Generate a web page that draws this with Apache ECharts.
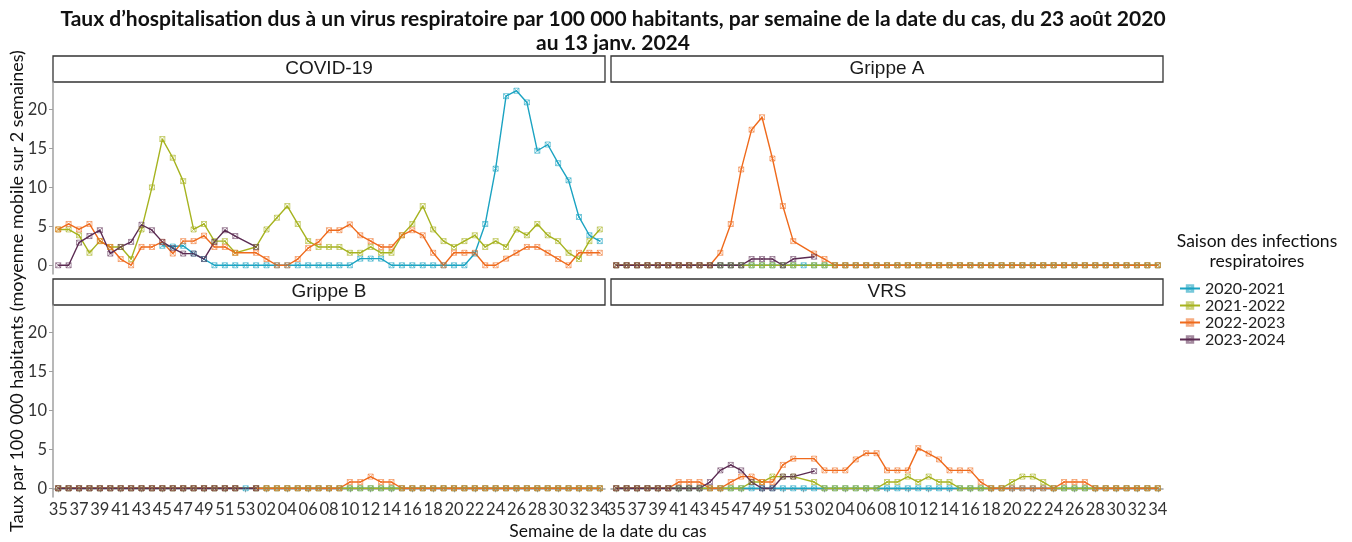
<!DOCTYPE html>
<html>
<head>
<meta charset="utf-8">
<script src="https://cdn.jsdelivr.net/npm/echarts@6/dist/echarts.min.js"></script>
<style>
  html, body { margin: 0; background: #fff; }
  #chart { width: 1352px; height: 542px; }
</style>
</head>
<body>
<div id="chart"></div>
<script>
const N = null;
const weeks = ['35','36','37','38','39','40','41','42','43','44','45','46','47','48','49','50','51','52','53',
  '01','02','03','04','05','06','07','08','09','10','11','12','13','14','15','16','17','18','19','20',
  '21','22','23','24','25','26','27','28','29','30','31','32','33','34'];
const facets = ['COVID-19', 'Grippe A', 'Grippe B', 'VRS'];
const seasons = ['2020-2021', '2021-2022', '2022-2023', '2023-2024'];
const yTicks = [0, 5, 10, 15, 20];

// COVID-19
const covid_2020_2021 = [N,N,N,N,N,N,N,N,N,N, 2.5,2.4,2.5,1.5,0.8, 0,0,0,0,0,0,0,0,0,0,0,0,0,0,
  0.85,0.85,0.85, 0,0,0,0,0,0,0,0, 1.5,5.3,12.4,21.7,22.4,20.9,14.7,15.5,13.1,10.9,6.2,3.85,3.1];
const covid_2021_2022 = [4.6,4.6,3.85,1.6,3.1,2.35,2.35,0.8,4.6,10.0,16.2,13.8,10.8,4.6,5.3,3.1,3.1,1.6,N,
  2.35,4.6,6.1,7.6,5.3,3.1,2.35,2.35,2.35,1.6,1.6,2.35,1.6,1.6,3.85,5.3,7.6,4.6,3.1,2.35,3.1,3.85,
  2.35,3.1,2.35,4.6,3.85,5.3,3.85,3.1,1.6,0.8,3.1,4.6];
const covid_2022_2023 = [4.6,5.3,4.6,5.3,3.1,2.35,0.8,0,2.35,2.35,3.0,1.5,3.1,3.1,3.8,2.35,2.35,1.6,N,
  1.6,0.8,0,0,0.8,2.2,3.0,4.5,4.5,5.25,3.85,3.1,2.35,2.35,3.85,4.5,3.85,1.6,0,1.6,1.6,1.6,
  0,0,0.85,1.6,2.35,2.35,1.6,0.8,0,1.6,1.6,1.6];
const covid_2023_2024 = [0,0,2.9,3.75,4.5,1.5,2.35,3.0,5.2,4.5,3.0,2.2,1.5,1.5,0.8,3.0,4.5,3.75,N,2.35,
  N,N,N,N,N,N,N,N,N,N,N,N,N,N,N,N,N,N,N,N,N,N,N,N,N,N,N,N,N,N,N,N,N];

// Grippe A
const grippeA_2020_2021 = [0,0,0,0,0,0,0,0,0,0,0,0,0,0,0,0,0,0,0,
  0,0,0,0,0,0,0,0,0,0,0,0,0,0,0,0,0,0,0,0,0,0,0,0,0,0,0,0,0,0,0,0,0,0];
const grippeA_2021_2022 = [0,0,0,0,0,0,0,0,0,0,0,0,0,0,0,0,0,0,N,
  0,0,0,0,0,0,0,0,0,0,0,0,0,0,0,0,0,0,0,0,0,0,0,0,0,0,0,0,0,0,0,0,0,0];
const grippeA_2022_2023 = [0,0,0,0,0,0,0,0,0,0,1.6,5.3,12.3,17.4,19.0,13.7,7.6,3.1,N,
  1.5,0.8,0,0,0,0,0,0,0,0,0,0,0,0,0,0,0,0,0,0,0,0,0,0,0,0,0,0,0,0,0,0,0,0];
const grippeA_2023_2024 = [0,0,0,0,0,0,0,0,0,0,0,0,0,0.8,0.8,0.8,0,0.8,N,1.1,
  N,N,N,N,N,N,N,N,N,N,N,N,N,N,N,N,N,N,N,N,N,N,N,N,N,N,N,N,N,N,N,N,N];

// Grippe B
const grippeB_2020_2021 = [0,0,0,0,0,0,0,0,0,0,0,0,0,0,0,0,0,0,0,
  0,0,0,0,0,0,0,0,0,0,0,0,0,0,0,0,0,0,0,0,0,0,0,0,0,0,0,0,0,0,0,0,0,0];
const grippeB_2021_2022 = [0,0,0,0,0,0,0,0,0,0,0,0,0,0,0,0,0,0,N,
  0,0,0,0,0,0,0,0,0,0,0,0,0,0,0,0,0,0,0,0,0,0,0,0,0,0,0,0,0,0,0,0,0,0];
const grippeB_2022_2023 = [0,0,0,0,0,0,0,0,0,0,0,0,0,0,0,0,0,0,N,
  0,0,0,0,0,0,0,0,0,0.8,0.8,1.5,0.8,0.8,0,0,0,0,0,0,0,0,0,0,0,0,0,0,0,0,0,0,0,0];
const grippeB_2023_2024 = [0,0,0,0,0,0,0,0,0,0,0,0,0,0,0,0,0,0,N,0,
  N,N,N,N,N,N,N,N,N,N,N,N,N,N,N,N,N,N,N,N,N,N,N,N,N,N,N,N,N,N,N,N,N];

// VRS
const vrs_2020_2021 = [0,0,0,0,0,0,0,0,0,0,0,0,0,0,0,0,0,0,0,
  0,0,0,0,0,0,0,0,0,0,0,0,0,0,0,0,0,0,0,0,0,0,0,0,0,0,0,0,0,0,0,0,0,0];
const vrs_2021_2022 = [0,0,0,0,0,0,0,0,0,0,0,0,0,0.8,0.8,1.5,1.5,1.5,N,
  0.8,0,0,0,0,0,0,0.8,0.8,1.5,0.8,1.5,0.8,0.8,0,0,0,0,0,0.8,1.5,1.5,0.8,0,0,0,0,0,0,0,0,0,0,0];
const vrs_2022_2023 = [0,0,0,0,0,0,0.8,0.8,0.8,0,0,0.8,1.5,1.5,0.8,0.8,3.0,3.8,N,
  3.8,2.3,2.3,2.3,3.7,4.5,4.5,2.3,2.3,2.3,5.15,4.45,3.7,2.3,2.3,2.3,0.8,
  0,0,0,0,0,0,0,0.8,0.8,0.8,0,0,0,0,0,0,0];
const vrs_2023_2024 = [0,0,0,0,0,0,0,0,0,0.8,2.3,3.0,2.3,0.8,0,0,1.5,1.5,N,2.2,
  N,N,N,N,N,N,N,N,N,N,N,N,N,N,N,N,N,N,N,N,N,N,N,N,N,N,N,N,N,N,N,N,N];

const facetData = [
  [covid_2020_2021, covid_2021_2022, covid_2022_2023, covid_2023_2024],
  [grippeA_2020_2021, grippeA_2021_2022, grippeA_2022_2023, grippeA_2023_2024],
  [grippeB_2020_2021, grippeB_2021_2022, grippeB_2022_2023, grippeB_2023_2024],
  [vrs_2020_2021, vrs_2021_2022, vrs_2022_2023, vrs_2023_2024]
];

const lineColors = ['#1ba3c2', '#a6b31f', '#ef6a1c', '#5b2b52'];
const markColors = ['rgba(27,163,194,0.6)', 'rgba(166,179,31,0.6)', 'rgba(239,106,28,0.55)', 'rgba(91,43,82,0.55)'];
const boxX = 'path://M0,0L10,0L10,10L0,10Z M0,0L10,10 M10,0L0,10';
const font = 'Lato, "Noto Sans", sans-serif';

const grids = [
  { left: 53, top: 82, width: 552, height: 192 },
  { left: 611, top: 82, width: 552, height: 192 },
  { left: 53, top: 305, width: 552, height: 192 },
  { left: 611, top: 305, width: 552, height: 192 }
];

const xAxes = grids.map((g, i) => ({
  type: 'category',
  gridIndex: i,
  data: weeks,
  boundaryGap: true,
  axisLine: { show: i >= 2, lineStyle: { color: '#a0a0a0', width: 1.5 } },
  axisTick: { show: i >= 2, interval: 1, alignWithLabel: true, length: 4, lineStyle: { color: '#a0a0a0' } },
  axisLabel: { show: i >= 2, interval: 1, fontSize: 16.5, color: '#333', margin: 4, fontFamily: font },
  splitLine: { show: false }
}));

const yAxes = grids.map((g, i) => ({
  type: 'value',
  gridIndex: i,
  min: -1.12,
  max: 23.52,
  axisLine: { show: i % 2 === 0, lineStyle: { color: '#a0a0a0', width: 1.5 } },
  axisTick: { show: i % 2 === 0, customValues: yTicks, length: 4, lineStyle: { color: '#a0a0a0' } },
  axisLabel: { show: i % 2 === 0, customValues: yTicks, fontSize: 16.5, color: '#333', margin: 6, fontFamily: font },
  splitLine: { show: false }
}));

const series = [];
facetData.forEach((rows, f) => {
  rows.forEach((vals, s) => {
    series.push({
      type: 'line',
      name: seasons[s],
      xAxisIndex: f,
      yAxisIndex: f,
      data: vals,
      connectNulls: true,
      symbol: boxX,
      symbolSize: 5,
      showAllSymbol: true,
      lineStyle: { color: lineColors[s], width: 1.4 },
      itemStyle: { color: 'rgba(255,255,255,0)', borderColor: markColors[s], borderWidth: 1 },
      emphasis: { disabled: true }
    });
  });
});

const strips = [];
grids.forEach((g, i) => {
  const top = i < 2 ? 56 : 279;
  strips.push({
    type: 'rect',
    shape: { x: g.left, y: top, width: g.width, height: 26 },
    style: { fill: '#fff', stroke: '#333', lineWidth: 1.3 }
  });
  strips.push({
    type: 'text',
    x: g.left + g.width / 2,
    y: top + 13,
    style: { text: facets[i], fill: '#1a1a1a', font: '19px "Liberation Sans", Arial, sans-serif',
      textAlign: 'center', textVerticalAlign: 'middle' }
  });
});

const chart = echarts.init(document.getElementById('chart'));
chart.setOption({
  animation: false,
  title: {
    text: 'Taux d’hospitalisation dus à un virus respiratoire par 100 000 habitants, par semaine de la date du cas, du 23 août 2020\nau 13 janv. 2024',
    left: 608,
    top: 2,
    textAlign: 'center',
    textStyle: { fontSize: 21, fontWeight: 'bold', color: '#111', lineHeight: 24, fontFamily: font }
  },
  legend: {
    orient: 'vertical',
    left: 1174,
    top: 275,
    itemWidth: 20,
    itemHeight: 8,
    itemGap: 0,
    data: seasons,
    textStyle: { fontSize: 16, lineHeight: 17, color: '#222', fontFamily: font }
  },
  grid: grids,
  xAxis: xAxes,
  yAxis: yAxes,
  series: series,
  graphic: strips.concat([
    {
      type: 'text', x: 17, y: 291, rotation: Math.PI / 2,
      style: { text: 'Taux par 100 000 habitants (moyenne mobile sur 2 semaines)', fill: '#111',
        font: '18px Lato, sans-serif', textAlign: 'center', textVerticalAlign: 'middle' }
    },
    {
      type: 'text', x: 608, y: 531,
      style: { text: 'Semaine de la date du cas', fill: '#111',
        font: '17.5px Lato, sans-serif', textAlign: 'center', textVerticalAlign: 'middle' }
    },
    {
      type: 'text', x: 1257, y: 251,
      style: { text: 'Saison des infections\nrespiratoires', fill: '#111', lineHeight: 20,
        font: '17.5px Lato, sans-serif', textAlign: 'center', textVerticalAlign: 'middle' }
    }
  ])
});
</script>
</body>
</html>
